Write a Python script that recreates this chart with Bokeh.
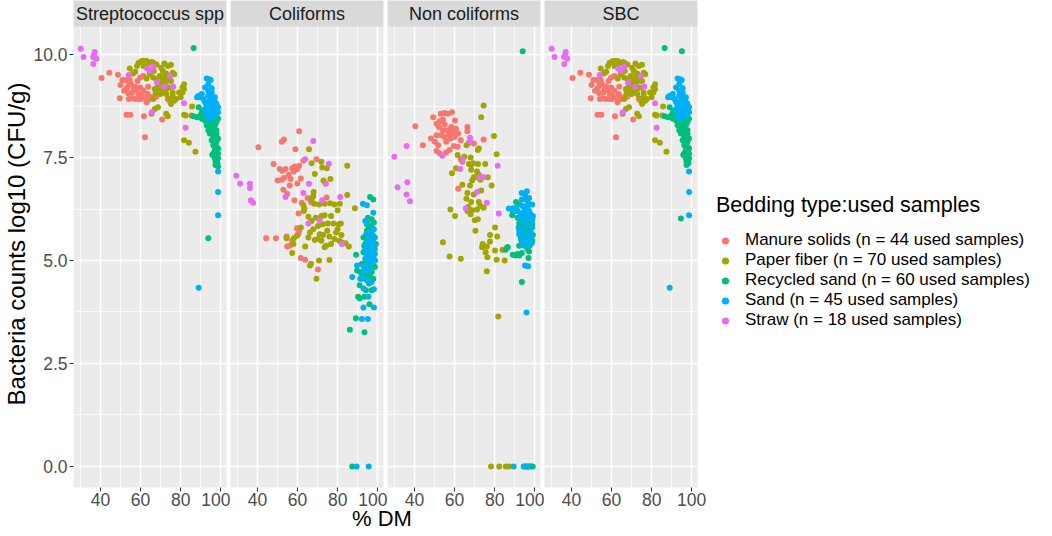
from bokeh.plotting import figure
from bokeh.models import (Range1d, FixedTicker, Legend, LegendItem, BoxAnnotation,
                          Label, Div, CustomJSTickFormatter)
from bokeh.layouts import row, column
from bokeh.embed import file_html
from bokeh.resources import INLINE

FONT = "Liberation Sans"

facets = ["Streptococcus spp", "Coliforms", "Non coliforms", "SBC"]
groups = ["Manure solids", "Paper fiber", "Recycled sand", "Sand", "Straw"]
group_n = [44, 70, 60, 45, 18]
colors = ["#F8766D", "#A3A500", "#00BF7D", "#00B0F6", "#E76BF3"]
x_ticks = [40, 60, 80, 100]
x_minor = [30, 50, 70, 90]
y_ticks = [0, 2.5, 5, 7.5, 10]
y_minor = [1.25, 3.75, 6.25, 8.75]
y_tick_labels = ["0.0", "2.5", "5.0", "7.5", "10.0"]

# ---------------- Streptococcus spp ----------------
strep_ms_dm = [40.5,44.4,48.7,50.0,49.6,52.6,54.6,55.2,54.1,51.7,53.0,53.8,55.9,57.3,58.1,59.0,59.8,60.6,61.4,58.5,59.8,61.4,55.7,57.3,59.0,63.5,64.6,63.0,66.6,67.9,53.0,54.9,61.7,70.8,62.2,63.8,73.6,74.4,56.5,60.1,54.1,50.9,62.7,65.5]
strep_ms_y = [9.43,9.56,9.51,9.26,8.94,9.38,9.38,9.28,9.26,9.12,9.18,9.06,9.08,9.22,9.14,9.04,9.2,9.0,9.12,9.36,9.44,9.48,8.94,8.92,8.92,9.04,8.92,8.84,8.94,8.98,8.54,8.54,8.50,8.42,7.99,9.22,8.92,8.88,9.16,8.92,8.92,9.38,8.92,8.96]
strep_pf_dm = [60.6,61.7,63.0,66.3,71.9,75.2,54.6,58.2,57.3,56.2,66.6,71.1,72.8,76.0,76.8,69.5,71.1,72.8,70.3,67.9,68.7,69.5,71.1,72.8,74.4,67.5,70.0,72.8,76.0,77.6,80.0,80.9,81.7,74.4,76.8,67.1,68.7,72.8,73.6,81.7,82.5,85.7,85.4,81.7,84.1,87.4,63.0,64.6,59.0,63.8,65.5,61.4,67.9,73.6,70.3,71.9,73.6,75.2,66.3,68.7,67.1,70.3,71.9,79.2,80.9,81.7,75.2,76.0,66.3,65.5]
strep_pf_y = [9.84,9.84,9.84,9.80,9.78,9.75,9.66,9.72,9.58,9.54,9.60,9.60,9.54,9.56,9.52,9.48,9.40,9.34,9.32,9.40,9.24,9.16,9.12,9.16,9.2,9.06,9.04,9.04,9.08,8.92,8.96,9.2,9.28,8.92,8.88,8.68,8.72,8.56,8.5,8.54,8.52,8.74,8.52,7.92,7.86,7.64,9.42,9.52,9.80,9.78,9.82,9.72,9.76,9.72,9.68,9.46,9.40,9.36,9.44,9.32,9.16,9.22,9.26,9.08,9.08,9.16,8.80,9.0,8.92,8.56]
strep_rs_dm = [86.5,89.0,90.6,92.2,93.8,95.5,86.5,88.2,93.8,95.5,97.1,97.9,94.6,96.3,97.1,95.5,97.9,96.3,97.1,97.9,96.8,97.9,98.7,96.3,95.8,98.7,97.9,98.4,97.4,98.7,93.8,93.0,94.6,91.4,89.8,90.6,92.2,93.0,93.8,95.5,96.3,95.5,97.9,97.1,97.9,97.1,98.7,96.3,94.6,97.1,98.7,97.9,95.5,91.4,93.0,96.3,97.1,94.6,98.7,97.4]
strep_rs_y = [10.16,8.72,8.6,8.52,8.48,8.52,8.5,8.48,8.36,8.32,8.28,8.36,8.2,8.16,8.12,8.08,8.08,7.96,7.88,7.99,7.8,7.76,7.72,7.6,7.56,7.48,7.44,7.36,7.32,7.28,5.54,8.76,8.8,8.64,8.52,8.44,8.4,8.28,8.16,8.24,8.04,7.92,7.88,7.68,7.56,7.48,7.6,7.8,8.6,8.6,8.44,8.16,8.6,8.48,8.56,8.4,8.32,8.08,7.96,7.40]
strep_sa_dm = [93.0,94.2,95.0,92.2,93.8,95.5,88.2,89.8,91.4,93.0,94.6,96.3,97.1,93.8,95.5,97.1,98.7,93.0,94.6,96.3,97.9,95.5,97.1,98.7,98.7,98.7,89.0,92.2,96.3,97.9,94.6,96.3,93.8,95.5,97.1,90.6,89.0,93.0,94.6,97.9,98.7,92.2,96.3,93.8,95.5]
strep_sa_y = [9.42,9.40,9.38,9.20,9.12,9.08,8.96,8.96,8.92,8.84,8.88,8.92,8.84,8.76,8.72,8.76,8.72,8.64,8.56,8.60,8.64,8.48,8.52,7.16,6.66,6.10,4.34,8.84,8.8,8.8,8.68,8.68,9.0,8.98,8.96,9.04,9.0,8.52,8.44,8.56,8.6,8.68,8.52,9.28,9.18]
strep_st_dm = [30.1,31.5,37.1,36.3,37.9,36.4,63.3,66.3,68.2,74.7,71.8,76.3,81.7,65.6,82.5,64.6,36.8,54.1]
strep_st_y = [10.14,9.94,10.06,9.94,9.90,9.77,9.66,9.70,9.32,9.48,9.22,9.22,8.82,8.60,8.22,9.60,10.0,9.5]

# ---------------- Coliforms ----------------
coli_ms_dm = [60.8,52.1,53.2,40.4,58.9,48.0,51.1,52.4,54.0,57.3,58.6,59.9,60.8,50.0,53.2,56.5,61.6,56.1,59.9,52.9,54.8,62.9,69.4,58.4,65.0,66.7,74.5,60.5,59.7,60.8,44.3,49.2,54.8,56.1,57.3,61.6,63.8,70.2,52.1,55.6,58.1,62.1,60.2,54.5]
coli_ms_y = [8.14,7.88,7.94,7.75,7.70,7.34,7.22,7.18,7.22,7.24,7.28,7.22,7.30,6.94,7.0,6.98,6.99,6.82,6.87,6.72,6.62,7.42,7.46,6.46,6.52,6.42,6.53,6.14,5.78,5.72,5.54,5.54,5.34,5.36,5.48,5.06,5.02,4.78,6.96,7.08,7.16,6.4,5.64,5.58]
coli_pf_dm = [65.7,67.0,71.9,72.3,74.6,84.8,68.6,72.9,73.8,76.4,68.0,67.8,67.0,62.9,63.4,70.7,73.5,76.2,78.4,80.0,81.1,84.8,88.6,65.4,67.0,71.9,73.5,75.1,77.9,80.5,81.6,61.6,59.7,57.9,57.3,63.8,54.5,58.1,66.2,67.8,68.6,70.2,71.9,72.7,74.3,73.5,75.9,80.0,81.9,80.8,84.0,85.6,66.2,66.7,70.7,75.9,69.4,70.2,76.7,79.2,81.9,69.1,63.1,72.7,74.8,76.7,65.4,71.0,78.4,68.3]
coli_pf_y = [7.70,7.36,7.40,7.26,7.24,7.30,7.10,6.94,6.88,6.98,6.66,6.56,6.48,6.34,6.26,6.36,6.38,6.39,6.36,6.22,6.38,6.59,6.27,6.06,5.96,6.08,6.10,5.90,5.90,5.88,5.90,5.8,5.6,5.4,5.18,5.34,5.54,5.54,5.68,5.76,5.50,5.52,5.48,5.62,5.36,5.32,5.58,5.76,5.62,5.48,5.42,5.34,4.88,4.92,5.0,5.01,4.56,5.84,6.08,5.68,5.44,6.04,6.2,5.88,5.72,5.40,5.56,5.64,5.52,6.38]
coli_rs_dm = [96.2,97.8,95.1,97.0,96.2,97.5,94.6,94.3,95.4,94.6,97.0,97.8,95.9,97.8,95.4,97.0,94.6,96.2,89.2,89.7,91.3,94.6,96.2,95.1,94.1,90.2,91.0,93.3,95.9,89.1,86.1,93.4,87.3,93.8,94.9,96.5,98.6,92.9,97.5,95.9,94.1,98.6,92.1,93.3,97.0,97.8,95.7,98.6,96.2,94.6,98.1,92.9,93.3,97.5,95.4,99.1,92.1,98.6,97.0,91.0]
coli_rs_y = [6.54,6.48,6.04,6.0,5.84,5.78,5.72,5.64,5.56,5.48,5.48,5.4,5.32,5.24,5.16,5.08,5.04,4.96,5.14,4.76,4.72,4.68,4.6,4.54,4.28,4.12,4.08,4.12,3.94,3.60,3.32,3.26,0.0,5.4,5.28,5.2,5.16,5.2,4.88,4.84,4.96,4.84,4.92,4.6,4.72,4.56,4.44,5.56,5.6,5.88,5.92,5.56,5.36,5.62,5.76,5.4,4.68,5.0,4.28,4.4]
coli_sa_dm = [92.6,94.6,93.8,94.9,97.8,94.6,96.2,98.3,95.4,97.0,97.8,96.2,98.6,89.7,92.9,95.4,87.3,92.1,94.6,92.9,95.4,98.1,92.9,98.1,92.1,95.1,89.5,95.5,95.4,97.0,93.8,97.8,95.7,94.3,97.0,98.6,94.6,92.9,97.0,94.6,98.1,96.2,91.3,97.5,93.8]
coli_sa_y = [6.38,6.34,5.96,5.9,6.16,5.64,5.68,5.56,5.4,5.28,5.16,5.08,5.0,4.88,4.86,4.76,4.6,4.56,4.52,4.32,4.12,4.30,3.86,3.86,3.58,3.58,0.0,0.0,5.48,5.4,5.28,5.08,5.0,5.16,4.92,5.28,4.8,4.72,4.48,5.4,5.76,5.16,4.56,5.48,5.04]
coli_st_dm = [29.4,31.3,36.2,36.2,36.7,37.8,67.8,63.8,75.6,65.7,62.9,54.0,74.1,72.3,81.3,65.4,71.0,82.1]
coli_st_y = [7.06,6.86,6.86,6.76,6.46,6.4,7.90,7.46,7.35,6.86,6.64,6.54,6.86,6.46,6.54,5.90,5.98,5.40]

# ---------------- Non coliforms ----------------
nonc_ms_dm = [40.4,44.2,49.3,53.1,55.0,56.6,58.7,51.0,52.6,54.2,55.0,52.1,48.2,50.2,51.0,53.4,55.0,56.6,57.5,59.1,58.3,60.7,61.8,59.9,57.9,51.0,52.6,55.8,57.5,59.6,61.5,66.4,66.4,63.9,69.6,74.5,70.4,72.5,61.8,54.2,55.8,51.8,60.2,63.1]
nonc_ms_y = [8.26,7.8,8.48,8.56,8.58,8.56,8.6,8.32,8.38,8.42,8.3,8.24,7.96,7.88,8.04,8.04,8.0,8.16,8.06,8.12,8.24,8.2,8.08,8.0,7.96,7.66,7.6,7.62,7.68,7.78,7.76,8.24,8.14,7.4,7.84,7.94,7.02,7.04,6.74,8.16,7.88,7.8,8.4,7.92]
nonc_pf_dm = [74.5,73.3,79.7,81.0,67.2,66.0,72.1,71.6,61.5,63.1,67.2,68.3,71.7,75.3,68.3,60.7,58.7,69.6,68.8,72.1,76.6,63.9,67.7,73.3,78.5,65.9,66.9,68.8,71.2,72.9,70.1,71.6,57.9,60.2,68.3,80.2,77.7,81.3,54.2,57.5,63.1,74.0,76.1,73.7,75.5,80.2,83.9,86.2,76.4,81.0,85.0,76.1,81.8,78.2,82.3,85.6,87.3,68.0,69.3,64.8,72.9,71.2,66.4,69.6,72.1,74.5,68.0,66.4,70.4,77.7]
nonc_pf_y = [8.76,8.48,8.02,7.58,7.86,7.8,7.72,7.68,7.56,7.46,7.34,7.32,7.34,7.34,7.2,7.24,7.12,7.02,6.94,7.08,7.02,6.84,6.82,6.7,6.82,6.5,6.3,6.22,6.24,6.32,5.98,6.0,6.24,6.08,6.42,5.8,5.62,5.58,5.44,5.1,5.04,5.4,5.34,5.32,5.2,5.24,5.26,5.32,5.08,5.02,5.0,4.74,3.64,0.0,0.0,0.0,0.0,7.5,7.36,7.52,6.96,7.16,6.64,6.6,6.42,6.28,6.12,6.2,5.72,5.46]
nonc_rs_dm = [94.0,90.7,92.3,95.6,89.1,88.8,93.1,95.6,98.0,94.8,97.2,93.1,95.6,98.0,93.9,96.4,98.0,95.6,86.6,85.5,89.1,90.7,92.3,93.6,97.2,96.9,93.6,94.9,95.8,96.6,97.4,98.2,99.0,93.9,96.4,98.8,92.3,96.4,98.8,93.9,96.9,92.3,94.8,97.2,99.1,93.1,95.6,96.9,98.8,94.3,97.5,92.3,96.4,95.6,98.0,95.2,93.6,91.5,90.4,91.5]
nonc_rs_y = [10.08,6.42,6.36,6.30,6.16,6.1,6.04,6.0,5.94,5.88,5.8,5.8,5.72,5.68,5.64,5.58,5.52,5.44,5.32,5.26,5.14,5.14,5.12,5.18,5.22,5.06,4.48,0.0,0.0,0.0,0.0,0.0,0.0,6.14,6.1,6.04,5.9,5.84,5.88,5.76,5.72,5.72,5.6,5.62,5.62,5.52,5.54,5.48,5.48,5.4,5.36,5.36,5.28,5.36,5.8,5.8,5.68,6.04,5.12,5.16]
nonc_sa_dm = [93.5,96.1,87.1,89.1,90.7,95.6,96.7,93.9,96.4,98.8,98.0,92.3,92.0,93.9,93.1,95.6,97.5,95.2,96.7,95.9,89.5,94.8,97.2,95.6,93.1,98.8,98.0,96.4,94.8,98.5,92.3,91.5,93.6,95.2,97.2,98.8,95.9,94.3,97.5,99.1,93.6,96.9,94.5,96.5,89.9]
nonc_sa_y = [6.64,6.68,6.26,6.26,6.28,6.48,6.40,6.32,6.30,5.98,6.12,6.0,5.8,5.72,5.56,5.48,5.56,4.88,4.86,3.74,0.0,6.2,6.2,6.08,6.12,5.8,5.68,5.62,5.36,5.42,5.64,6.2,6.48,6.6,6.52,6.36,5.88,5.96,6.04,6.08,5.44,5.36,0.0,0.0,6.2]
nonc_st_dm = [29.9,36.0,31.5,36.4,36.0,37.7,67.7,53.9,63.9,72.5,74.5,81.5,71.2,76.1,62.8,65.6,82.1,68.0]
nonc_st_y = [7.52,7.78,6.78,6.9,6.6,6.44,7.98,7.54,7.46,7.02,7.02,7.3,6.66,6.4,7.22,6.26,6.14,7.88]

# ---------------- SBC (read as identical to Streptococcus except recycled sand) ----------------
sbc_ms_dm, sbc_ms_y = strep_ms_dm, strep_ms_y
sbc_pf_dm, sbc_pf_y = strep_pf_dm, strep_pf_y
sbc_sa_dm, sbc_sa_y = strep_sa_dm, strep_sa_y
sbc_st_dm, sbc_st_y = strep_st_dm, strep_st_y
sbc_rs_dm = [86.5,89.0,90.6,92.2,93.8,95.5,86.5,88.2,93.8,95.5,97.1,97.9,94.6,96.3,97.1,95.5,97.9,96.3,97.1,97.9,96.8,97.9,98.7,96.3,95.8,98.7,97.9,98.4,97.4,95.1,94.6,93.0,94.6,91.4,89.8,90.6,92.2,93.0,93.8,95.5,96.3,95.5,97.9,97.1,97.9,97.1,98.7,96.3,94.6,97.1,98.7,97.9,95.5,91.4,93.0,96.3,97.1,94.6,98.7,97.4]
sbc_rs_y = [10.16,8.72,8.6,8.52,8.48,8.52,8.5,8.48,8.36,8.32,8.28,8.36,8.2,8.16,8.12,8.08,8.08,7.96,7.88,7.99,7.8,7.76,7.72,7.6,7.56,7.48,7.44,7.36,7.32,10.08,6.02,8.76,8.8,8.64,8.52,8.44,8.4,8.28,8.16,8.24,8.04,7.92,7.88,7.68,7.56,7.48,7.6,7.8,8.6,8.6,8.44,8.16,8.6,8.48,8.56,8.4,8.32,8.08,7.96,7.40]

facet_data = [
    [(strep_ms_dm, strep_ms_y), (strep_pf_dm, strep_pf_y), (strep_rs_dm, strep_rs_y), (strep_sa_dm, strep_sa_y), (strep_st_dm, strep_st_y)],
    [(coli_ms_dm, coli_ms_y), (coli_pf_dm, coli_pf_y), (coli_rs_dm, coli_rs_y), (coli_sa_dm, coli_sa_y), (coli_st_dm, coli_st_y)],
    [(nonc_ms_dm, nonc_ms_y), (nonc_pf_dm, nonc_pf_y), (nonc_rs_dm, nonc_rs_y), (nonc_sa_dm, nonc_sa_y), (nonc_st_dm, nonc_st_y)],
    [(sbc_ms_dm, sbc_ms_y), (sbc_pf_dm, sbc_pf_y), (sbc_rs_dm, sbc_rs_y), (sbc_sa_dm, sbc_sa_y), (sbc_st_dm, sbc_st_y)],
]

# ---------------- layout constants ----------------
X0, X1 = 26.5, 102.9
Y0, Y1 = -0.51, 10.68
PANEL_H = 461
STRIP_H = 26
FW = 153
Y_TOP = Y1 + STRIP_H * (Y1 - Y0) / PANEL_H

figs = []
last_renderers = []
for i, name in enumerate(facets):
    first = i == 0
    p = figure(frame_width=FW, frame_height=PANEL_H + STRIP_H,
               x_range=Range1d(X0, X1), y_range=Range1d(Y0, Y_TOP),
               output_backend="svg", toolbar_location=None,
               y_axis_location="left" if first else None,
               background_fill_color="#EBEBEB", border_fill_color="white",
               outline_line_color=None,
               min_border_left=4 if first else 0,
               min_border_right=4 if i < 3 else 0,
               min_border_top=0, min_border_bottom=2)

    for g in p.xgrid + p.ygrid:
        g.grid_line_color = "white"
        g.grid_line_width = 1.6
        g.minor_grid_line_color = "white"
        g.minor_grid_line_width = 0.8
    xt = FixedTicker(ticks=x_ticks, minor_ticks=x_minor)
    yt = FixedTicker(ticks=y_ticks, minor_ticks=y_minor)
    p.xaxis.ticker = xt
    for g in p.xgrid:
        g.ticker = xt
    for g in p.ygrid:
        g.ticker = yt

    for ax in p.xaxis:
        ax.axis_line_color = None
        ax.major_tick_line_color = "#333333"
        ax.major_tick_out = 4
        ax.major_tick_in = 0
        ax.minor_tick_line_color = None
        ax.major_label_text_font = FONT
        ax.major_label_text_font_size = "17.5px"
        ax.major_label_text_color = "#4D4D4D"
        ax.major_label_standoff = 1

    if first:
        ax = p.yaxis[0]
        ax.ticker = yt
        ax.formatter = CustomJSTickFormatter(args=dict(t=y_ticks, l=y_tick_labels),
                                             code="const i = t.indexOf(tick); return i >= 0 ? l[i] : '';")
        ax.axis_line_color = None
        ax.major_tick_line_color = "#333333"
        ax.major_tick_out = 4
        ax.major_tick_in = 0
        ax.minor_tick_line_color = None
        ax.major_label_text_font = FONT
        ax.major_label_text_font_size = "17.5px"
        ax.major_label_text_color = "#4D4D4D"
        ax.major_label_standoff = 2
        ax.axis_label = "Bacteria counts log10 (CFU/g)"
        ax.axis_label_text_font = FONT
        ax.axis_label_text_font_size = "24px"
        ax.axis_label_text_font_style = "normal"
        ax.axis_label_text_color = "black"
        ax.axis_label_standoff = 0

    rends = []
    for (dm, yy), col in zip(facet_data[i], colors):
        r = p.scatter(dm, yy, size=6, fill_color=col, line_color=None)
        rends.append(r)
    last_renderers = rends

    # facet strip
    p.add_layout(BoxAnnotation(bottom=Y1, fill_color="#D9D9D9", fill_alpha=1.0,
                               line_color=None, level="overlay"))
    p.add_layout(Label(x=(X0 + X1) / 2, y=(Y1 + Y_TOP) / 2, text=name,
                       text_align="center", text_baseline="middle",
                       text_font=FONT, text_font_size="18px", text_color="#1A1A1A",
                       level="overlay"))
    figs.append(p)

items = [LegendItem(label=f"{g} (n = {n} used samples)", renderers=[r])
         for g, n, r in zip(groups, group_n, last_renderers)]
legend = Legend(items=items, location=(19, 157),
                title="Bedding type:used samples",
                title_text_font=FONT, title_text_font_size="21.5px",
                title_text_font_style="normal", title_text_color="black",
                title_standoff=12,
                label_text_font=FONT, label_text_font_size="17px", label_text_color="black",
                label_standoff=11, glyph_width=18, glyph_height=19, label_height=19,
                spacing=0, padding=4, margin=0,
                border_line_color=None, background_fill_color="white")
figs[3].add_layout(legend, "right")

xlab = Div(text="% DM", width=624, height=22, margin=(0, 0, 0, 70),
           styles={"font-family": FONT, "font-size": "22px", "text-align": "center",
                   "color": "black", "width": "624px", "line-height": "22px"})

layout = column(row(*figs, spacing=0), xlab, spacing=0)

open("out.html", "w").write(file_html(layout, INLINE))
